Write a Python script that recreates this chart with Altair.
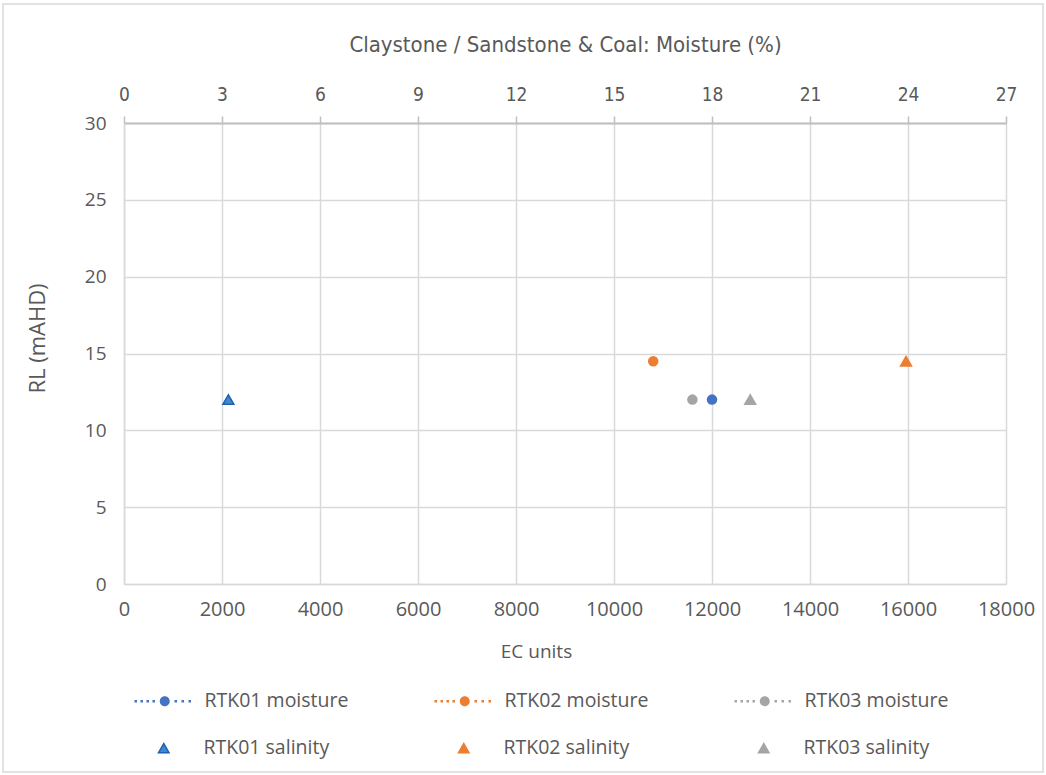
import altair as alt
import pandas as pd

# ---- data ----
moisture_series = ["RTK01 moisture", "RTK02 moisture", "RTK03 moisture"]
moisture_pct = [18.0, 16.2, 17.4]
moisture_rl = [12.0, 14.5, 12.0]

salinity_series = ["RTK01 salinity", "RTK02 salinity", "RTK03 salinity"]
salinity_ec = [2130, 15960, 12780]
salinity_rl = [12.0, 14.5, 12.0]

ec_ticks = list(range(0, 18001, 2000))
moisture_ticks = list(range(0, 28, 3))
rl_ticks = list(range(0, 31, 5))

# ---- styles ----
moisture_colors = ["#4472C4", "#ED7D31", "#A5A5A5"]
salinity_fill = ["#3C8AD2", "#ED7D31", "#A5A5A5"]
salinity_stroke = ["#1F5FAF", "#ED7D31", "#A5A5A5"]
TXT = "#595959"
GRID = "#D9D9D9"
WIDE = "'Open Sans', 'Noto Sans', sans-serif"
NARROW = "'Liberation Sans Narrow', 'DejaVu Sans Condensed', 'Roboto', sans-serif"

moisture_df = pd.DataFrame({"series": moisture_series, "moisture": moisture_pct, "rl": moisture_rl})
salinity_df = pd.DataFrame({"series": salinity_series, "ec": salinity_ec, "rl": salinity_rl})

# legend symbol: dotted line with a circle in the middle
circle = "M1,0A1,1,0,1,1,-1,0A1,1,0,1,1,1,0Z"
dots = "".join(f"M{c - 0.25:.2f},-0.25h0.5v0.5h-0.5Z" for c in [-5.8, -4.6, -3.4, -2.2, 2.2, 3.6, 5.0])
line_dot_symbol = circle + dots

y_enc = alt.Y(
    "rl:Q",
    scale=alt.Scale(domain=[0, 30], nice=False),
    axis=alt.Axis(
        title="RL (mAHD)", values=rl_ticks, grid=True, gridColor=GRID, gridWidth=1.5,
        domain=True, domainColor=GRID, domainWidth=1.5, ticks=False, labelFlush=False,
        labelFont=WIDE, labelFontSize=19, labelColor=TXT, labelPadding=18,
        titleFont=WIDE, titleFontSize=22, titleFontWeight="normal", titleColor=TXT,
        titleX=-87, titleY=215, titleAlign="center", titleBaseline="middle", titleAngle=270,
    ),
)

sal_legend = alt.Legend(
    title=None, orient="none", legendX=30, legendY=615, columns=3,
    columnPadding=124, symbolType="triangle-up", symbolSize=110,
    labelFont=WIDE, labelFontSize=19.5, labelColor=TXT, labelOffset=30,
    symbolStrokeWidth=1.5,
)

salinity = alt.Chart(salinity_df).mark_point(
    shape="triangle-up", filled=True, opacity=1, size=120, strokeWidth=1.5
).encode(
    x=alt.X(
        "ec:Q",
        scale=alt.Scale(domain=[0, 18000], nice=False),
        axis=alt.Axis(
            orient="bottom", title="EC units", values=ec_ticks, format="d",
            grid=True, gridColor=GRID, gridWidth=1.5, labelFlush=False,
            domain=True, domainColor=GRID, domainWidth=1.5, ticks=False,
            labelFont=WIDE, labelFontSize=20, labelColor=TXT, labelPadding=15,
            titleFont=WIDE, titleFontSize=19, titleFontWeight="normal", titleColor=TXT,
            titlePadding=23, titleX=412, titleAlign="center",
        ),
    ),
    y=y_enc,
    fill=alt.Fill(
        "series:N",
        scale=alt.Scale(domain=salinity_series, range=salinity_fill),
        legend=sal_legend,
    ),
    stroke=alt.Stroke(
        "series:N",
        scale=alt.Scale(domain=salinity_series, range=salinity_stroke),
        legend=sal_legend,
    ),
)

moisture = alt.Chart(moisture_df).mark_point(
    shape="circle", filled=True, opacity=1, size=110
).encode(
    x=alt.X(
        "moisture:Q",
        scale=alt.Scale(domain=[0, 27], nice=False),
        axis=alt.Axis(
            orient="top", title="Claystone / Sandstone & Coal: Moisture (%)", values=moisture_ticks,
            grid=False, domain=True, domainColor="#BFBFBF", domainWidth=2, labelFlush=False,
            ticks=True, tickColor="#BFBFBF", tickWidth=1.5, tickSize=7,
            labelFont=NARROW, labelFontSize=19, labelColor=TXT, labelPadding=12,
            titleFont=NARROW, titleFontSize=22, titleFontWeight="normal", titleColor=TXT,
            titlePadding=29,
        ),
    ),
    y=y_enc,
    color=alt.Color(
        "series:N",
        scale=alt.Scale(domain=moisture_series, range=moisture_colors),
        legend=alt.Legend(
            title=None, orient="none", legendX=31, legendY=568, columns=3,
            columnPadding=85, symbolType=line_dot_symbol, symbolSize=100,
            symbolStrokeWidth=0, labelFont=WIDE, labelFontSize=19.5, labelColor=TXT,
            labelOffset=30,
        ),
    ),
)

border = alt.Chart(pd.DataFrame({"k": [0]})).mark_rect(
    fill=None, stroke=GRID, strokeWidth=1.5
).encode(
    x=alt.value(-121), x2=alt.value(1043 - 124),
    y=alt.value(-119), y2=alt.value(772 - 123),
)

chart = alt.layer(border, salinity, moisture).resolve_scale(
    x="independent", color="independent", fill="independent", stroke="independent"
).properties(
    width=882, height=461,
    autosize=alt.AutoSizeParams(type="none"),
    padding={"left": 124, "top": 123, "right": 40, "bottom": 191},
).configure_view(stroke=None).configure(background="white")

chart.save("out.html", embed_options={"renderer": "svg", "actions": False})
